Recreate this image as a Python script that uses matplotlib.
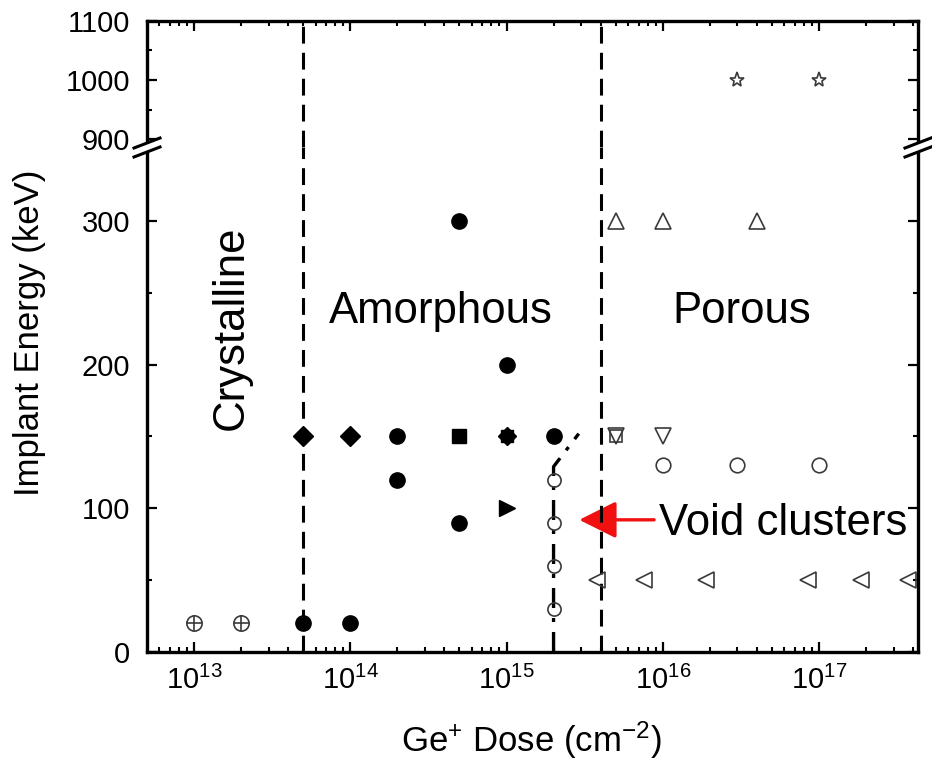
import numpy as np
import matplotlib
matplotlib.use('Agg')
from matplotlib import pyplot as plt
from matplotlib.lines import Line2D
from matplotlib.patches import Polygon, FancyArrowPatch
from matplotlib.ticker import LogLocator, NullFormatter, FixedLocator

plt.rcParams['font.family'] = ['Liberation Sans', 'DejaVu Sans']
plt.rcParams['mathtext.fontset'] = 'custom'
plt.rcParams['mathtext.rm'] = 'Liberation Sans'
plt.rcParams['mathtext.it'] = 'Liberation Sans:italic'
plt.rcParams['mathtext.bf'] = 'Liberation Sans:bold'

# ---- data (dose in cm^-2, energy in keV) ----
filled_circle_dose   = [5e13, 1e14, 2e14, 2e14, 5e14, 5e14, 1e15, 2e15]
filled_circle_energy = [20, 20, 150, 120, 90, 300, 200, 150]
diamond_dose   = [5e13, 1e14]
diamond_energy = [150, 150]
square_dose   = [5e14]
square_energy = [150]
octo_dose   = [1e15]
octo_energy = [150]
right_tri_dose   = [1e15]
right_tri_energy = [100]

crossed_dose   = [1e13, 2e13]
crossed_energy = [20, 20]
void_dose   = [2e15, 2e15, 2e15, 2e15]
void_energy = [120, 90, 60, 30]
up_tri_dose   = [5e15, 1e16, 4e16]
up_tri_energy = [300, 300, 300]
down_tri_dose   = [5e15, 1e16]
down_tri_energy = [150, 150]
open_square_dose   = [5e15]
open_square_energy = [150]
open_circle_dose   = [1e16, 3e16, 1e17]
open_circle_energy = [130, 130, 130]
left_tri_dose   = [3.8e15, 7.6e15, 1.9e16, 8.5e16, 1.85e17, 3.7e17]
left_tri_energy = [50, 50, 50, 50, 50, 50]
star_dose   = [3e16, 1e17]
star_energy = [1000, 1000]

cryst_amorph_dose = 5e13
amorph_porous_dose = 4e15
void_line_dose   = [2e15, 2e15, 2.9e15]
void_line_energy = [0, 129, 152]
arrow_tip  = (2.92e15, 92)
arrow_tail = (8.8e15, 92)

W, H = 932, 759
fig = plt.figure(figsize=(W / 100, H / 100), dpi=100)

def px(x0, y0, x1, y1):
    return [x0 / W, 1 - y1 / H, (x1 - x0) / W, (y1 - y0) / H]

ax_top = fig.add_axes(px(147, 20.7, 918, 147))
ax = fig.add_axes(px(147, 147, 918, 652))

open_col = '#3a3a3a'

for a in (ax, ax_top):
    a.set_xscale('log')
    a.set_xlim(5e12, 4.3e17)
    for s in a.spines.values():
        s.set_linewidth(2.4)
    a.tick_params(which='major', direction='in', length=7, width=1.6,
                  labelsize=21, left=True, right=True)
    a.tick_params(which='minor', direction='in', length=3.5, width=1.5,
                  left=True, right=True)
    a.tick_params(axis='y', pad=12)
    a.tick_params(axis='x', pad=10)
    a.xaxis.set_minor_locator(LogLocator(base=10, subs=np.arange(2, 10), numticks=20))
    a.xaxis.set_minor_formatter(NullFormatter())
    a.axvline(cryst_amorph_dose, color='k', lw=2.2, dashes=(5.5, 3), zorder=3)
    a.axvline(amorph_porous_dose, color='k', lw=2.2, dashes=(5.5, 3), zorder=3)

ax_top.set_ylim(887, 1100)
ax_top.set_yticks([900, 1000, 1100])
ax_top.yaxis.set_minor_locator(FixedLocator([950, 1050]))
ax_top.spines['bottom'].set_visible(False)
ax_top.tick_params(axis='x', which='both', bottom=False, top=True, labelbottom=False)

ax.set_ylim(0, 351.5)
ax.set_yticks([0, 100, 200, 300])
ax.yaxis.set_minor_locator(FixedLocator([50, 150, 250]))
ax.spines['top'].set_visible(False)
ax.tick_params(axis='x', which='both', bottom=True, top=False)

# filled markers
ax.plot(filled_circle_dose, filled_circle_energy, 'o', color='k', ms=11, zorder=4)
ax.plot(diamond_dose, diamond_energy, 'D', color='k', ms=10, zorder=4)
ax.plot(square_dose, square_energy, 's', color='k', ms=10, zorder=4)
ax.plot(octo_dose, octo_energy, 's', color='k', ms=9, zorder=4)
ax.plot(octo_dose, octo_energy, 'D', color='k', ms=9, zorder=4)
ax.plot(right_tri_dose, right_tri_energy, '>', color='k', ms=11, zorder=4)

# open markers
op = dict(mfc='none', mec=open_col, mew=1.2, ls='none', zorder=4)
ax.plot(crossed_dose, crossed_energy, 'o', ms=11, **op)
ax.plot(crossed_dose, crossed_energy, '+', ms=11, **op)
ax.plot(void_dose, void_energy, 'o', ms=9.5, **op)
ax.plot(up_tri_dose, up_tri_energy, '^', ms=11.5, **op)
ax.plot(down_tri_dose, down_tri_energy, 'v', ms=11.5, **op)
ax.plot(open_square_dose, open_square_energy, 's', ms=9, **op)
ax.plot(open_circle_dose, open_circle_energy, 'o', ms=10.5, **op)
ax.plot(left_tri_dose, left_tri_energy, '<', ms=11.5, **op)
ax_top.plot(star_dose, star_energy, '*', ms=11, **op)

# void cluster boundary
ax.plot(void_line_dose, void_line_energy, color='k', lw=2.4,
        dashes=(6, 3, 1.2, 3), zorder=3)

# arrow and labels
arr = FancyArrowPatch(arrow_tail, arrow_tip, arrowstyle='-|>,head_length=1.0,head_width=0.5',
                      mutation_scale=23, color='#f01010', lw=2.4, shrinkA=0, shrinkB=0,
                      zorder=2)
ax.add_patch(arr)
ax.text(9.5e15, 81.4, 'Void clusters', fontsize=31.5, ha='left', va='baseline')
ax.text(3.8e14, 229, 'Amorphous', fontsize=31.5, ha='center', va='baseline')
ax.text(3.2e16, 229, 'Porous', fontsize=31.5, ha='center', va='baseline')
ax.text(2.05e13, 225.5, 'Crystalline', fontsize=31.5, ha='center', va='baseline',
        rotation=90, rotation_mode='anchor')

fig.text(30 / W, 1 - 333 / H, 'Implant Energy (keV)', fontsize=25, rotation=90,
         ha='center', va='center')
fig.text(531 / W, 1 - 740 / H, r'Ge$^{+}$ Dose (cm$^{-2}$)', fontsize=25,
         ha='center', va='center')

# axis break marks
for cx in (147, 918):
    cy = 147
    up = [(cx - 13, cy + 1), (cx + 13, cy - 9)]
    lo = [(cx - 13, cy + 10), (cx + 13, cy)]
    poly = [up[0], up[1], lo[1], lo[0]]
    fig.add_artist(Polygon([(x / W, 1 - y / H) for x, y in poly], closed=True,
                           transform=fig.transFigure, fc='white', ec='none', zorder=10))
    for seg in (up, lo):
        fig.add_artist(Line2D([p[0] / W for p in seg], [1 - p[1] / H for p in seg],
                              transform=fig.transFigure, color='k', lw=2.2, zorder=11))

fig.savefig('out.png', dpi=100)
